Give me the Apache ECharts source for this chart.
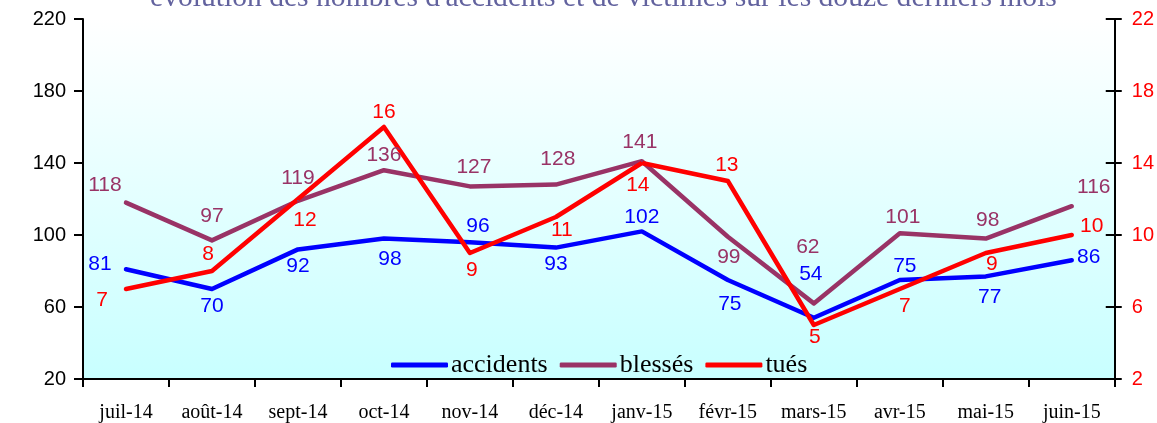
<!DOCTYPE html>
<html>
<head>
<meta charset="utf-8">
<script src="https://cdn.jsdelivr.net/npm/echarts@6/dist/echarts.min.js"></script>
<style>html,body{margin:0;padding:0;background:#fff}#c{width:1157px;height:423px}</style>
</head>
<body>
<div id="c"></div>
<script>
const titleText = "évolution des nombres d'accidents et de victimes sur les douze derniers mois";
const categories = ["juil-14","août-14","sept-14","oct-14","nov-14","déc-14","janv-15","févr-15","mars-15","avr-15","mai-15","juin-15"];
const accidents = [81,70,92,98,96,93,102,75,54,75,77,86];
const blesses = [118,97,119,136,127,128,141,99,62,101,98,116];
const tues = [7,8,12,16,9,11,14,13,5,7,9,10];
const leftTicks = {min:20, max:220, interval:40};
const rightTicks = {min:2, max:22, interval:4};

// label offsets (dx, dy) from each point, style only
const accOff = [[-26,-5],[0,17],[0,17],[6,21],[8,-16],[0,17],[0,-14],[2,24],[-3,-44],[5,-14],[4,21],[17,-3]];
const blOff = [[-21,-17],[0,-24],[0,-23],[0,-15],[4,-19],[2,-25],[-2,-19],[1,20],[-6,-56],[3,-16],[2,-18],[22,-19]];
const tuOff = [[-24,11],[-4,-17],[7,21],[0,-15],[2,17],[6,13],[-4,22],[-1,-16],[1,12],[5,17],[6,11],[20,-9]];

function withLabels(vals, offs){
  return vals.map((v,i)=>({value:v, label:{offset:offs[i]}}));
}
function series(name, vals, offs, color, yIdx){
  return {
    name, type:'line', yAxisIndex:yIdx, data:withLabels(vals, offs),
    symbol:'circle', symbolSize:2, showSymbol:true,
    lineStyle:{color, width:4.5, cap:'round', join:'round'},
    itemStyle:{color},
    label:{show:true, position:'inside', color, fontFamily:'Liberation Sans, Arial, sans-serif', fontSize:21},
    emphasis:{disabled:true}, animation:false, z:3
  };
}
const chart = echarts.init(document.getElementById('c'), null, {renderer:'canvas'});
const axisLineStyle = {color:'#000', width:2};
chart.setOption({
  animation:false,
  title:{text:titleText, left:145, top:-22, textStyle:{fontFamily:'Liberation Serif, Times New Roman, serif', fontWeight:'normal', fontSize:29.6, color:'#62629e'}},
  legend:{
    top:347, left:386, itemWidth:57, itemHeight:5, itemGap:12, icon:'roundRect',
    textStyle:{fontFamily:'Liberation Serif, Times New Roman, serif', fontSize:26, color:'#000', padding:[0,0,0,-2]},
    data:['accidents','blessés','tués']
  },
  grid:{left:83, right:39, top:19, bottom:40, show:true, borderWidth:0,
    backgroundColor:{type:'linear', x:0, y:0, x2:0, y2:1, colorStops:[{offset:0,color:'#ffffff'},{offset:1,color:'#c8ffff'}]}},
  xAxis:{type:'category', data:categories, boundaryGap:true,
    axisLine:{lineStyle:axisLineStyle}, axisTick:{show:true, length:8, lineStyle:axisLineStyle, alignWithLabel:false},
    axisLabel:{margin:24, color:'#000', fontFamily:'Liberation Serif, Times New Roman, serif', fontSize:20, interval:0},
    splitLine:{show:false}},
  yAxis:[
    {type:'value', position:'left', min:leftTicks.min, max:leftTicks.max, interval:leftTicks.interval,
      axisLine:{show:true, lineStyle:axisLineStyle}, axisTick:{show:true, length:9, lineStyle:axisLineStyle},
      axisLabel:{margin:17, color:'#000', fontFamily:'Liberation Sans, Arial, sans-serif', fontSize:20},
      splitLine:{show:false}},
    {type:'value', position:'right', min:rightTicks.min, max:rightTicks.max, interval:rightTicks.interval,
      axisLine:{show:true, lineStyle:axisLineStyle}, axisTick:{show:true, length:7, lineStyle:axisLineStyle},
      axisLabel:{margin:17, color:'#ff0000', fontFamily:'Liberation Sans, Arial, sans-serif', fontSize:20},
      splitLine:{show:false}},
    {type:'value', position:'right', min:rightTicks.min, max:rightTicks.max, interval:rightTicks.interval,
      axisLine:{show:false}, axisTick:{show:true, inside:true, length:9, lineStyle:axisLineStyle},
      axisLabel:{show:false}, splitLine:{show:false}}
  ],
  series:[
    series('accidents', accidents, accOff, '#0000ff', 0),
    series('blessés', blesses, blOff, '#993366', 0),
    series('tués', tues, tuOff, '#ff0000', 1)
  ]
});
</script>
</body>
</html>
